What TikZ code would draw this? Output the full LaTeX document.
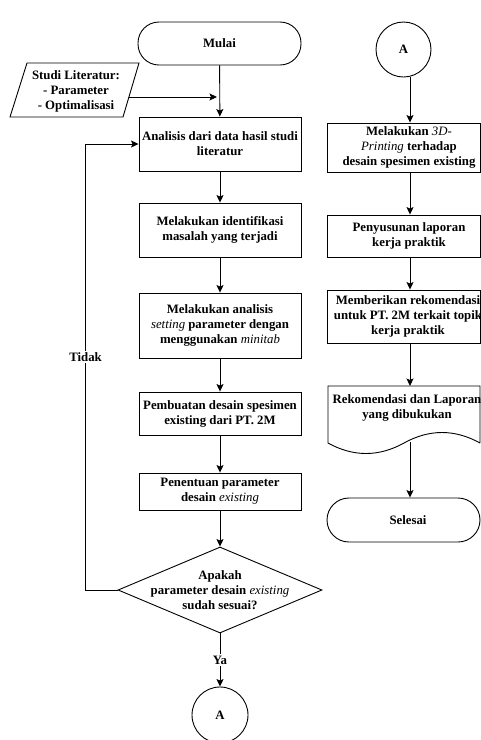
\documentclass[tikz,border=0pt]{standalone}
\usepackage{fontspec}
\setmainfont{Liberation Serif}
\usetikzlibrary{shapes.geometric,arrows.meta}
\newcommand{\myit}[1]{\textit{\mdseries #1}}
\begin{document}
\begin{tikzpicture}[x=1pt,y=-1pt,
  line width=0.9pt,
  font=\fontsize{12.8}{15}\selectfont\bfseries,
  arr/.style={-{Stealth[length=7.5pt,width=7pt,inset=1.5pt]}},
  procbox/.style={draw, rectangle, minimum width=162pt, inner sep=0pt, align=center},
  rbox/.style={draw, rectangle, minimum width=153pt, inner sep=0pt},
  txt/.style={align=center, inner sep=0pt},
  term/.style={draw, rectangle, rounded corners=21pt, inner sep=0pt},
  conn/.style={draw, circle, inner sep=0pt, minimum size=55pt},
  lab/.style={fill=white, inner sep=1.5pt}]
\useasboundingbox (0,0) rectangle (481,740);
\clip (0,0) rectangle (481,740);

% left column
\node[term, minimum width=163pt, minimum height=43pt] (mulai) at (219.5,43.5) {Mulai};
\draw (10,117) -- (27,63) -- (139,63) -- (123,117) -- cycle;
\node[txt] (studi) at (76,91) {Studi Literatur:\\- Parameter\\- Optimalisasi};
\coordinate (sa) at (129,97);
\coordinate (sb) at (217,97);

\node[procbox, minimum height=54pt] (b1) at (220,144) {Analisis dari data hasil studi\\literatur};
\node[procbox, minimum height=54pt] (b2) at (220,230) {Melakukan identifikasi\\masalah yang terjadi};
\node[procbox, minimum height=65pt] (b3) at (220,325.5) {Melakukan analisis\\\myit{setting} parameter dengan\\menggunakan \myit{minitab}};
\node[procbox, minimum height=43pt] (b4) at (220,413.5) {Pembuatan desain spesimen\\existing dari PT. 2M};
\node[procbox, minimum height=37pt] (b5) at (220,491.5) {Penentuan parameter\\desain \myit{existing}};
\node[draw, diamond, minimum width=204pt, minimum height=86pt, inner sep=0pt] (d) at (220,590) {};
\node[txt] (dt) at (220,590) {Apakah\\parameter desain \myit{existing}\\sudah sesuai?};
\node[conn, minimum size=56pt] (ca) at (220,715) {A};

\draw[arr] (mulai) -- (b1);
\draw[arr] (sa) -- (sb);
\draw[arr] (b1) -- (b2);
\draw[arr] (b2) -- (b3);
\draw[arr] (b3) -- (b4);
\draw[arr] (b4) -- (b5);
\draw[arr] (b5) -- (d);
\draw[arr] (d.south) -- node[lab] {Ya} (ca.north);
\draw[arr] (d.west) -- ++(-32,0) |- node[lab, pos=0.261] {Tidak} (b1.west);

% right column
\coordinate (rx) at (410,0);
\node[conn] (ct) at (403.5,49.5) {A};
\node[rbox, minimum height=49pt] (r1) at (403.5,147.5) {};
\node[txt] (r1t) at (409,147.5) {Melakukan \myit{3D-}\\\myit{Printing} terhadap\\desain spesimen existing};
\node[rbox, minimum height=42pt] (r2) at (403.5,236) {};
\node[txt] (r2t) at (409,236) {Penyusunan laporan\\kerja praktik};
\node[rbox, minimum height=53pt] (r3) at (403.5,316.5) {};
\node[txt] (r3t) at (408,316.5) {Memberikan rekomendasi\\untuk PT. 2M terkait topik\\kerja praktik};
\draw (480,443) -- (480,386) -- (328,386) -- (328,443)
  .. controls (353.3,457) and (378.7,457) .. (404,443)
  .. controls (429.3,429) and (454.7,429) .. (480,443);
\node[txt] (doct) at (407,408) {Rekomendasi dan Laporan\\yang dibukukan};
\coordinate (dtop) at (410,386);
\coordinate (dbot) at (410,442);
\node[term, rounded corners=22pt, minimum width=153pt, minimum height=44pt] (selesai) at (403.5,520) {};
\node[txt] (selt) at (408,520) {Selesai};

\draw[arr] (ct.south -| rx) -- (r1.north -| rx);
\draw[arr] (r1.south -| rx) -- (r2.north -| rx);
\draw[arr] (r2.south -| rx) -- (r3.north -| rx);
\draw[arr] (r3.south -| rx) -- (dtop);
\draw[arr] (dbot) -- (selesai.north -| rx);
\end{tikzpicture}
\end{document}
